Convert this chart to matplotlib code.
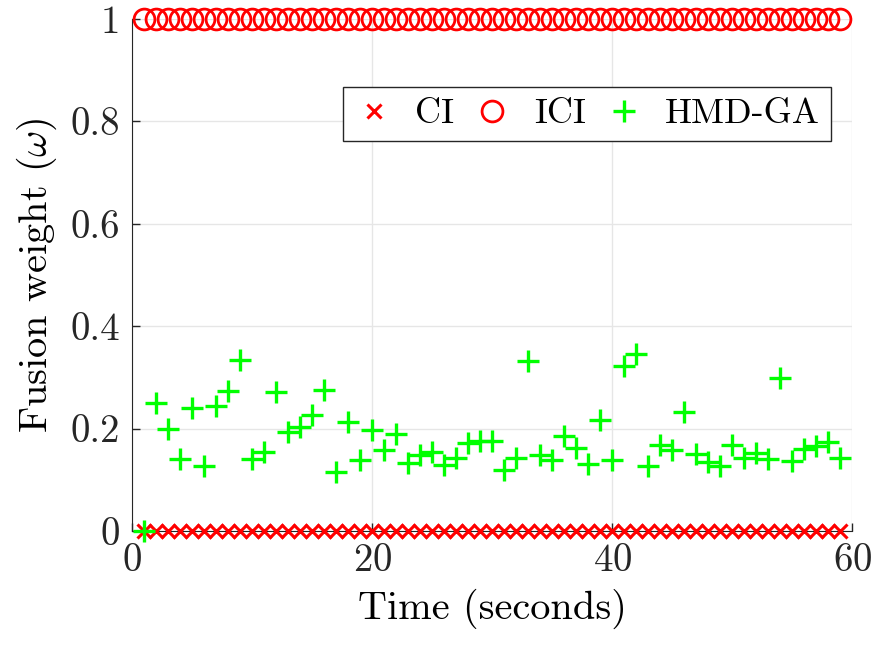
import numpy as np
import matplotlib
matplotlib.use('Agg')
import matplotlib.pyplot as plt

plt.rcParams['font.family'] = ['cmr10', 'DejaVu Serif']
plt.rcParams['mathtext.fontset'] = 'cm'
plt.rcParams['axes.formatter.use_mathtext'] = True

# time steps (seconds)
t = np.arange(1, 60)

# fusion weights
ci = np.zeros(len(t))
ici = np.ones(len(t))
hmd_ga = [0.0, 0.25, 0.20, 0.14, 0.241, 0.127, 0.245, 0.273, 0.334, 0.14,
          0.155, 0.271, 0.193, 0.204, 0.226, 0.276, 0.116, 0.212, 0.139, 0.198,
          0.158, 0.189, 0.133, 0.148, 0.155, 0.129, 0.142, 0.171, 0.176, 0.176,
          0.120, 0.142, 0.332, 0.148, 0.139, 0.185, 0.163, 0.130, 0.217, 0.139,
          0.323, 0.345, 0.126, 0.168, 0.158, 0.233, 0.150, 0.135, 0.126, 0.167,
          0.142, 0.152, 0.140, 0.299, 0.137, 0.161, 0.166, 0.174, 0.142]

xticks = [0, 20, 40, 60]
yticks = [0, 0.2, 0.4, 0.6, 0.8, 1]
yticklabels = ['0', '0.2', '0.4', '0.6', '0.8', '1']

fig = plt.figure(figsize=(8.75, 6.46), dpi=100)
ax = fig.add_axes([0.151, 0.178, 0.823, 0.793])

ax.plot(t, ci, 'x', color='red', markersize=10, mew=2.2, label='CI', clip_on=False, zorder=3)
ax.plot(t, ici, 'o', color='red', mfc='none', markersize=15, mew=2.0, label='ICI', clip_on=False, zorder=3)
ax.plot(t, hmd_ga, '+', color=(0, 1, 0), markersize=16, mew=2.4, label='HMD-GA', clip_on=False, zorder=4)

ax.set_xlim(0, 60)
ax.set_ylim(0, 1)
ax.set_xticks(xticks)
ax.set_yticks(yticks)
ax.set_yticklabels(yticklabels)
ax.tick_params(labelsize=28, direction='in', length=6, width=1, colors='#262626', pad=9)
ax.grid(True, color='#e6e6e6', linewidth=1)
ax.set_axisbelow(True)
for s in ['top', 'right']:
    ax.spines[s].set_visible(False)
for s in ['left', 'bottom']:
    ax.spines[s].set_color('#262626')

ax.set_xlabel('Time (seconds)', fontsize=29, labelpad=7)
ax.set_ylabel(r'Fusion weight ($\omega$)', fontsize=29, labelpad=8)

leg = ax.legend(ncol=3, loc='upper left', bbox_to_anchor=(0.293, 0.866), fontsize=26,
                frameon=True, fancybox=False, edgecolor='#262626', framealpha=1,
                handletextpad=0.6, columnspacing=0.5, borderpad=0.3,
                handlelength=1.1, borderaxespad=0)
leg.get_frame().set_linewidth(1)

fig.savefig('out.png', dpi=100)
